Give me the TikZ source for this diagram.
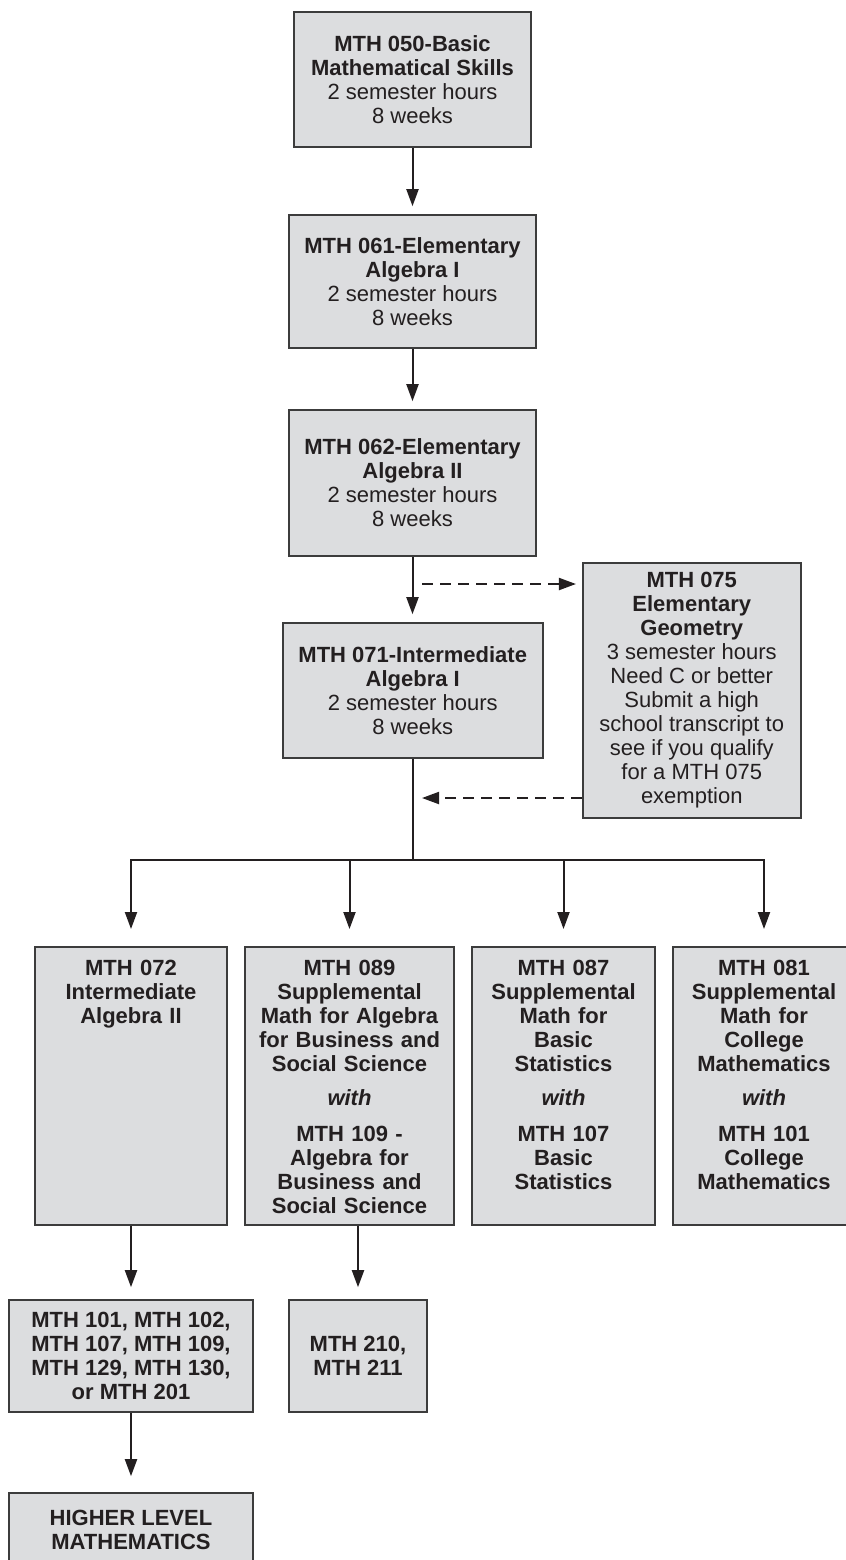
\documentclass[tikz,border=0pt]{standalone}
\usepackage{fontspec}
\setmainfont{Liberation Sans}
\usetikzlibrary{arrows.meta}
\definecolor{boxfill}{HTML}{DCDDDF}
\definecolor{boxline}{HTML}{3C3C3C}
\definecolor{inkcol}{HTML}{231F20}
\begin{document}
\begin{tikzpicture}
[x=0.5pt,y=-0.5pt,
  boxdecorate/.style={shape=rectangle,draw=boxline,fill=boxfill,line width=0.8pt,
    text=inkcol,align=center,inner sep=0pt,font=\fontsize{11}{12}\selectfont},
  rowdecorate/.style={boxdecorate,anchor=north,inner xsep=2pt,inner ysep=0pt,
    text height=14.4pt,text depth=124.6pt,font=\fontsize{11}{12}\selectfont\bfseries},
  linedecorate/.style={-{Triangle[length=8.5pt,width=6pt]},line width=1pt,draw=inkcol},
  dashdecorate/.style={linedecorate,dash pattern=on 5.5pt off 3.5pt}]
\useasboundingbox (0,0) rectangle (846,1560);
%% nodes or boxes
\node (b050) at (412.5,79.5) [boxdecorate,minimum width=118.5pt,minimum height=67.5pt]
  {\textbf{MTH 050-Basic}\\\textbf{Mathematical Skills}\\2 semester hours\\8 weeks};
\node (b061) at (412.5,281.5) [boxdecorate,minimum width=123.5pt,minimum height=66.5pt]
  {\textbf{MTH 061-Elementary}\\\textbf{Algebra I}\\2 semester hours\\8 weeks};
\node (b062) at (412.5,483) [boxdecorate,minimum width=123.5pt,minimum height=73pt]
  {\textbf{MTH 062-Elementary}\\\textbf{Algebra II}\\2 semester hours\\8 weeks};
\node (b071) at (412.75,690.5) [boxdecorate,minimum width=130pt,minimum height=67.5pt]
  {\textbf{MTH 071-Intermediate}\\\textbf{Algebra I}\\2 semester hours\\8 weeks};
\node (b075) at (691.75,690.5) [boxdecorate,minimum width=109pt,minimum height=127.5pt]
  {\textbf{MTH 075}\\\textbf{Elementary}\\\textbf{Geometry}\\3 semester hours\\Need C or better\\
   Submit a high\\school transcript to\\see if you qualify\\for a MTH 075\\exemption};
\node (b072) at (131,946) [rowdecorate,text width=92pt]
  {MTH 072\\Intermediate\\Algebra II};
\node (b089) at (349.5,946) [rowdecorate,text width=100.5pt]
  {MTH 089\\Supplemental\\Math for Algebra\\for Business and\\Social Science\\[5pt]
   \textit{with}\\[6pt]MTH 109 -\\Algebra for\\Business and\\Social Science};
\node (b087) at (563.5,946) [rowdecorate,text width=87.5pt]
  {MTH 087\\Supplemental\\Math for\\Basic\\Statistics\\[5pt]
   \textit{with}\\[6pt]MTH 107\\Basic\\Statistics};
\node (b081) at (764,946) [rowdecorate,text width=87pt]
  {MTH 081\\Supplemental\\Math for\\College\\Mathematics\\[5pt]
   \textit{with}\\[6pt]MTH 101\\College\\Mathematics};
\node (b101) at (131,1356) [boxdecorate,minimum width=122pt,minimum height=56pt]
  {\textbf{MTH 101, MTH 102,}\\\textbf{MTH 107, MTH 109,}\\\textbf{MTH 129, MTH 130,}\\\textbf{or MTH 201}};
\node (b210) at (358,1356) [boxdecorate,minimum width=69pt,minimum height=56pt]
  {\textbf{MTH 210,}\\\textbf{MTH 211}};
\node (bhigh) at (131,1530) [boxdecorate,minimum width=122pt,minimum height=37pt]
  {\textbf{HIGHER LEVEL}\\\textbf{MATHEMATICS}};
\coordinate (split) at (413,860);
\coordinate (goright) at (422,584);
\coordinate (goback) at (422,798);
%% edges or lines
\draw[linedecorate,shorten >=4pt] (b050) -- (b061);
\draw[linedecorate,shorten >=4pt] (b061) -- (b062);
\draw[linedecorate,shorten >=4pt] (b062.south) -- (b062.south |- b071.north);
\draw[line width=1pt,draw=inkcol] (b071.south -| split) -- (split);
\foreach \nodename in {b072,b089,b087,b081} {
  \draw[linedecorate,shorten >=8.5pt] (split) -| (\nodename.north);
}
\draw[dashdecorate,shorten >=3pt] (goright) -- (goright -| b075.west);
\draw[dashdecorate] (goback -| b075.west) -- (goback);
\draw[linedecorate,shorten >=6pt] (b072) -- (b101);
\draw[linedecorate,shorten >=6pt] (b210.north |- b089.south) -- (b210.north);
\draw[linedecorate,shorten >=8pt] (b101) -- (bhigh);
\end{tikzpicture}
\end{document}
